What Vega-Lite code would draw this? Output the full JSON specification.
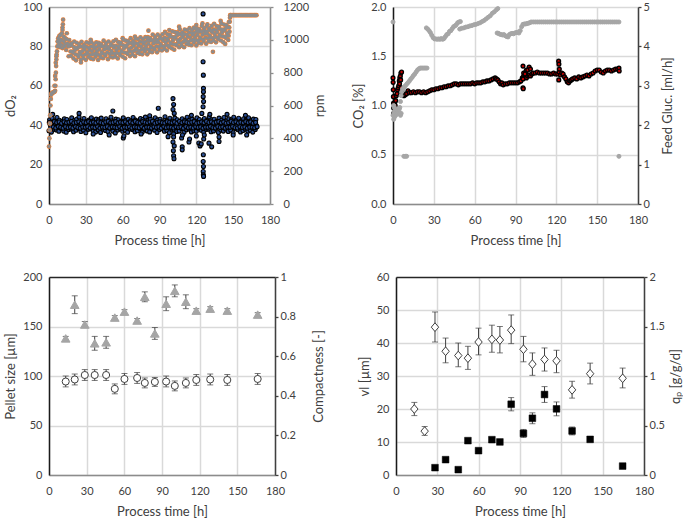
{
"$schema":"https://vega.github.io/schema/vega-lite/v6.json",
"padding":{"left":4,"top":1,"right":0,"bottom":0},
"background":"white",
"config":{
 "view":{"stroke":null},
 "font":"Lato",
 "axis":{"labelFont":"Lato","labelFontSize":11,"labelColor":"#404040","titleFont":"Lato","titleFontSize":13,"titleFontWeight":"normal","titleColor":"#404040","gridColor":"#d9d9d9","gridWidth":1.5,"domainWidth":1.5,"tickWidth":1.3,"titlePadding":5,"labelOverlap":false},
 "axisX":{"domainColor":"#8c8c8c","ticks":false,"labelPadding":10,"titlePadding":9,"labelFlush":false,"grid":true,"labelOverlap":false},
 "axisLeft":{"domainColor":"#1a1a1a","ticks":false,"labelPadding":7,"grid":true},
 "axisRight":{"domainColor":"#404040","tickColor":"#404040","ticks":true,"tickSize":3,"labelPadding":2,"grid":false,"titleAngle":270,"titleBaseline":"top"}
},
"datasets":{
"do2":[
{"t":0,"v":37.2},{"t":1,"v":40.2},{"t":0.5,"v":42.8},{"t":2,"v":36.5},{"t":3,"v":39.4},{"t":2.5,"v":43.5},{"t":4,"v":38.0},{"t":5,"v":40.8},{"t":4.5,"v":42.1},{"t":6,"v":37.6},{"t":7,"v":39.9},{"t":6.5,"v":43.9},{"t":8,"v":36.9},{"t":9,"v":40.5},{"t":8.5,"v":42.5},{"t":10,"v":38.3},{"t":11,"v":39.2},{"t":10.5,"v":41.8},{"t":12,"v":37.0},{"t":13,"v":41.0},{"t":12.5,"v":43.2},{"t":14,"v":36.4},{"t":15,"v":40.0},{"t":14.5,"v":42.9},{"t":16,"v":37.8},{"t":17,"v":39.6},{"t":16.5,"v":41.6},{"t":18,"v":38.1},{"t":19,"v":40.7},{"t":18.5,"v":43.7},{"t":20,"v":36.7},{"t":21,"v":39.3},{"t":20.5,"v":42.3},{"t":22,"v":37.4},{"t":23,"v":40.4},{"t":22.5,"v":43.0},{"t":24,"v":38.4},{"t":25,"v":39.8},{"t":24.5,"v":44.2},{"t":26,"v":36.8},{"t":27,"v":40.9},{"t":26.5,"v":42.0},{"t":28,"v":37.5},{"t":29,"v":39.5},{"t":28.5,"v":43.4},{"t":30,"v":36.2},{"t":31,"v":40.1},{"t":30.5,"v":41.9},{"t":32,"v":37.9},{"t":33,"v":40.6},{"t":32.5,"v":42.6},{"t":34,"v":38.2},{"t":35,"v":39.1},{"t":34.5,"v":43.8},{"t":36,"v":37.1},{"t":37,"v":40.3},{"t":36.5,"v":42.2},{"t":38,"v":36.6},{"t":39,"v":39.7},{"t":38.5,"v":43.1},{"t":40,"v":37.7},{"t":41,"v":40.5},{"t":40.5,"v":42.7},{"t":42,"v":36.3},{"t":43,"v":39.8},{"t":42.5,"v":43.6},{"t":44,"v":38.0},{"t":45,"v":40.1},{"t":44.5,"v":41.7},{"t":46,"v":37.3},{"t":47,"v":40.9},{"t":46.5,"v":43.3},{"t":48,"v":36.8},{"t":49,"v":39.4},{"t":48.5,"v":42.4},{"t":50,"v":38.5},{"t":51,"v":40.3},{"t":50.5,"v":44.0},{"t":52,"v":37.0},{"t":53,"v":39.6},{"t":52.5,"v":42.0},{"t":54,"v":36.1},{"t":55,"v":40.7},{"t":54.5,"v":43.1},{"t":56,"v":37.6},{"t":57,"v":39.2},{"t":56.5,"v":42.8},{"t":58,"v":38.2},{"t":59,"v":40.0},{"t":58.5,"v":41.9},{"t":60,"v":36.9},{"t":61,"v":40.8},{"t":60.5,"v":43.7},{"t":62,"v":37.4},{"t":63,"v":39.5},{"t":62.5,"v":42.5},{"t":64,"v":36.4},{"t":65,"v":40.4},{"t":64.5,"v":43.0},{"t":66,"v":38.1},{"t":67,"v":39.9},{"t":66.5,"v":42.2},{"t":68,"v":37.8},{"t":69,"v":41.0},{"t":68.5,"v":43.9},{"t":70,"v":36.7},{"t":71,"v":39.3},{"t":70.5,"v":42.6},{"t":72,"v":37.2},{"t":73,"v":40.2},{"t":72.5,"v":41.8},{"t":74,"v":38.3},{"t":75,"v":39.7},{"t":74.5,"v":43.4},{"t":76,"v":36.5},{"t":77,"v":40.6},{"t":76.5,"v":42.9},{"t":78,"v":37.9},{"t":79,"v":39.1},{"t":78.5,"v":44.1},{"t":80,"v":37.1},{"t":81,"v":40.4},{"t":80.5,"v":42.3},{"t":82,"v":36.6},{"t":83,"v":39.6},{"t":82.5,"v":43.2},{"t":84,"v":38.2},{"t":85,"v":40.9},{"t":84.5,"v":41.6},{"t":86,"v":37.5},{"t":87,"v":40.0},{"t":86.5,"v":43.8},{"t":88,"v":36.3},{"t":89,"v":39.3},{"t":88.5,"v":42.7},{"t":90,"v":37.8},{"t":91,"v":40.7},{"t":90.5,"v":43.0},{"t":92,"v":38.4},{"t":93,"v":39.8},{"t":92.5,"v":42.1},{"t":94,"v":36.9},{"t":95,"v":40.2},{"t":94.5,"v":44.3},{"t":96,"v":37.3},{"t":97,"v":39.5},{"t":96.5,"v":42.5},{"t":98,"v":36.2},{"t":99,"v":41.0},{"t":98.5,"v":43.5},{"t":100,"v":38.0},{"t":101,"v":40.1},{"t":100.5,"v":42.0},{"t":102,"v":37.6},{"t":103,"v":39.4},{"t":102.5,"v":43.6},{"t":104,"v":36.8},{"t":105,"v":40.6},{"t":104.5,"v":42.8},{"t":106,"v":37.0},{"t":107,"v":39.9},{"t":106.5,"v":41.9},{"t":108,"v":38.3},{"t":109,"v":40.3},{"t":108.5,"v":43.3},{"t":110,"v":36.4},{"t":111,"v":39.2},{"t":110.5,"v":42.4},{"t":112,"v":37.7},{"t":113,"v":40.8},{"t":112.5,"v":44.0},{"t":114,"v":38.1},{"t":115,"v":39.7},{"t":114.5,"v":42.6},{"t":116,"v":36.6},{"t":117,"v":40.5},{"t":116.5,"v":43.1},{"t":118,"v":37.2},{"t":119,"v":40.0},{"t":118.5,"v":42.2},{"t":120,"v":36.9},{"t":121,"v":39.6},{"t":120.5,"v":43.7},{"t":122,"v":38.2},{"t":123,"v":40.4},{"t":122.5,"v":42.9},{"t":124,"v":37.4},{"t":125,"v":39.1},{"t":124.5,"v":41.7},{"t":126,"v":36.5},{"t":127,"v":40.8},{"t":126.5,"v":43.4},{"t":128,"v":37.9},{"t":129,"v":39.9},{"t":128.5,"v":42.3},{"t":130,"v":38.0},{"t":131,"v":40.2},{"t":130.5,"v":44.2},{"t":132,"v":36.7},{"t":133,"v":39.4},{"t":132.5,"v":42.8},{"t":134,"v":37.1},{"t":135,"v":40.7},{"t":134.5,"v":43.0},{"t":136,"v":38.4},{"t":137,"v":40.0},{"t":136.5,"v":41.8},{"t":138,"v":36.3},{"t":139,"v":39.5},{"t":138.5,"v":43.6},{"t":140,"v":37.6},{"t":141,"v":40.9},{"t":140.5,"v":42.5},{"t":142,"v":37.0},{"t":143,"v":39.8},{"t":142.5,"v":43.9},{"t":144,"v":38.1},{"t":145,"v":40.3},{"t":144.5,"v":42.1},{"t":146,"v":36.8},{"t":147,"v":39.3},{"t":146.5,"v":43.2},{"t":148,"v":37.5},{"t":149,"v":40.6},{"t":148.5,"v":42.7},{"t":150,"v":36.2},{"t":151,"v":39.7},{"t":150.5,"v":44.0},{"t":152,"v":38.3},{"t":153,"v":40.1},{"t":152.5,"v":42.4},{"t":154,"v":37.7},{"t":155,"v":41.0},{"t":154.5,"v":43.5},{"t":156,"v":36.6},{"t":157,"v":39.2},{"t":156.5,"v":42.0},{"t":158,"v":37.3},{"t":159,"v":40.5},{"t":158.5,"v":43.3},{"t":160,"v":38.0},{"t":161,"v":39.9},{"t":160.5,"v":42.6},{"t":162,"v":36.9},{"t":163,"v":40.4},{"t":162.5,"v":43.8},{"t":164,"v":37.4},{"t":165,"v":39.6},{"t":164.5,"v":42.2},{"t":166,"v":36.5},{"t":167,"v":40.2},{"t":166.5,"v":43.1},{"t":168,"v":37.8},{"t":169,"v":39.8},{"t":168.5,"v":42.9},
{"t":1.5,"v":38.8},{"t":3.5,"v":39.1},{"t":5.5,"v":38.6},{"t":7.5,"v":39.3},{"t":9.5,"v":38.9},{"t":11.5,"v":38.5},{"t":13.5,"v":39.2},{"t":15.5,"v":38.7},{"t":17.5,"v":39.0},{"t":19.5,"v":38.6},{"t":21.5,"v":39.3},{"t":23.5,"v":38.8},{"t":25.5,"v":38.5},{"t":27.5,"v":39.1},{"t":29.5,"v":38.9},{"t":31.5,"v":39.2},{"t":33.5,"v":38.6},{"t":35.5,"v":39.0},{"t":37.5,"v":38.7},{"t":39.5,"v":39.3},{"t":41.5,"v":38.5},{"t":43.5,"v":39.0},{"t":45.5,"v":38.8},{"t":47.5,"v":39.2},{"t":49.5,"v":38.6},{"t":51.5,"v":39.1},{"t":53.5,"v":38.9},{"t":55.5,"v":38.7},{"t":57.5,"v":39.3},{"t":59.5,"v":38.5},{"t":61.5,"v":39.0},{"t":63.5,"v":38.8},{"t":65.5,"v":39.2},{"t":67.5,"v":38.6},{"t":69.5,"v":39.1},{"t":71.5,"v":38.9},{"t":73.5,"v":38.7},{"t":75.5,"v":39.3},{"t":77.5,"v":38.5},{"t":79.5,"v":39.0},{"t":81.5,"v":38.9},{"t":83.5,"v":38.6},{"t":85.5,"v":39.2},{"t":87.5,"v":38.8},{"t":89.5,"v":39.1},{"t":91.5,"v":38.5},{"t":93.5,"v":39.3},{"t":95.5,"v":38.7},{"t":97.5,"v":39.0},{"t":99.5,"v":38.9},{"t":101.5,"v":38.6},{"t":103.5,"v":39.2},{"t":105.5,"v":38.8},{"t":107.5,"v":39.1},{"t":109.5,"v":38.5},{"t":111.5,"v":39.3},{"t":113.5,"v":38.7},{"t":115.5,"v":39.0},{"t":117.5,"v":38.6},{"t":119.5,"v":39.2},{"t":121.5,"v":38.8},{"t":123.5,"v":39.1},{"t":125.5,"v":38.5},{"t":127.5,"v":39.0},{"t":129.5,"v":38.9},{"t":131.5,"v":39.3},{"t":133.5,"v":38.7},{"t":135.5,"v":38.6},{"t":137.5,"v":39.2},{"t":139.5,"v":38.8},{"t":141.5,"v":39.1},{"t":143.5,"v":38.5},{"t":145.5,"v":39.0},{"t":147.5,"v":38.9},{"t":149.5,"v":39.3},{"t":151.5,"v":38.7},{"t":153.5,"v":38.6},{"t":155.5,"v":39.2},{"t":157.5,"v":38.8},{"t":159.5,"v":39.1},{"t":161.5,"v":38.5},{"t":163.5,"v":39.0},{"t":165.5,"v":38.9},{"t":167.5,"v":38.7},{"t":169.5,"v":39.2},
{"t":0.25,"v":41.4},{"t":2.25,"v":41.1},{"t":4.25,"v":41.8},{"t":6.25,"v":41.3},{"t":8.25,"v":41.6},{"t":10.25,"v":41.0},{"t":12.25,"v":41.7},{"t":14.25,"v":41.2},{"t":16.25,"v":41.5},{"t":18.25,"v":41.9},{"t":20.25,"v":41.1},{"t":22.25,"v":41.4},{"t":24.25,"v":41.7},{"t":26.25,"v":41.0},{"t":28.25,"v":41.6},{"t":30.25,"v":41.3},{"t":32.25,"v":41.8},{"t":34.25,"v":41.2},{"t":36.25,"v":41.5},{"t":38.25,"v":41.1},{"t":40.25,"v":41.7},{"t":42.25,"v":41.3},{"t":44.25,"v":41.0},{"t":46.25,"v":41.6},{"t":48.25,"v":41.9},{"t":50.25,"v":41.2},{"t":52.25,"v":41.4},{"t":54.25,"v":41.8},{"t":56.25,"v":41.1},{"t":58.25,"v":41.5},{"t":60.25,"v":41.3},{"t":62.25,"v":41.7},{"t":64.25,"v":41.0},{"t":66.25,"v":41.6},{"t":68.25,"v":41.2},{"t":70.25,"v":41.9},{"t":72.25,"v":41.4},{"t":74.25,"v":41.1},{"t":76.25,"v":41.8},{"t":78.25,"v":41.5},{"t":80.25,"v":41.2},{"t":82.25,"v":41.6},{"t":84.25,"v":41.9},{"t":86.25,"v":41.0},{"t":88.25,"v":41.4},{"t":90.25,"v":41.7},{"t":92.25,"v":41.3},{"t":94.25,"v":41.1},{"t":96.25,"v":41.8},{"t":98.25,"v":41.5},{"t":100.25,"v":41.2},{"t":102.25,"v":41.6},{"t":104.25,"v":41.0},{"t":106.25,"v":41.9},{"t":108.25,"v":41.3},{"t":110.25,"v":41.7},{"t":112.25,"v":41.4},{"t":114.25,"v":41.1},{"t":116.25,"v":41.5},{"t":118.25,"v":41.8},{"t":120.25,"v":41.0},{"t":122.25,"v":41.3},{"t":124.25,"v":41.6},{"t":126.25,"v":41.2},{"t":128.25,"v":41.9},{"t":130.25,"v":41.4},{"t":132.25,"v":41.7},{"t":134.25,"v":41.1},{"t":136.25,"v":41.5},{"t":138.25,"v":41.8},{"t":140.25,"v":41.2},{"t":142.25,"v":41.6},{"t":144.25,"v":41.0},{"t":146.25,"v":41.3},{"t":148.25,"v":41.9},{"t":150.25,"v":41.4},{"t":152.25,"v":41.7},{"t":154.25,"v":41.1},{"t":156.25,"v":41.5},{"t":158.25,"v":41.2},{"t":160.25,"v":41.8},{"t":162.25,"v":41.3},{"t":164.25,"v":41.6},{"t":166.25,"v":41.0},{"t":168.25,"v":41.4},
{"t":3,"v":45.5},{"t":24.5,"v":46},{"t":52,"v":47.2},{"t":60.5,"v":33.5},{"t":61,"v":34.5},{"t":89,"v":48.6},{"t":97,"v":34.2},{"t":101,"v":53.5},{"t":101.5,"v":50.5},{"t":101,"v":48},{"t":102,"v":46},{"t":101.5,"v":35.5},{"t":101.5,"v":34},{"t":101,"v":31.5},{"t":102,"v":29.5},{"t":101.3,"v":27},{"t":101.5,"v":24.5},{"t":101.8,"v":23},{"t":108.5,"v":29},{"t":108.5,"v":27.5},{"t":108,"v":33.5},{"t":108.7,"v":35},{"t":114,"v":31.5},{"t":114.5,"v":33},{"t":116,"v":45},{"t":122,"v":31},{"t":123,"v":29.5},{"t":124,"v":30.5},{"t":124.5,"v":46},{"t":125.5,"v":96.5},{"t":125.5,"v":72.2},{"t":125.7,"v":65.4},{"t":125.8,"v":58.7},{"t":125.8,"v":57},{"t":125.6,"v":54.5},{"t":125.9,"v":52},{"t":125.5,"v":49.4},{"t":125.7,"v":25},{"t":125.6,"v":21.6},{"t":125.8,"v":19},{"t":125.6,"v":16.5},{"t":125.7,"v":14.8},{"t":125.9,"v":14},{"t":126,"v":33},{"t":126.5,"v":35},{"t":130.3,"v":30.9},{"t":132.5,"v":29},{"t":131,"v":45.5},{"t":138.5,"v":31.7},{"t":138.5,"v":34},{"t":145,"v":45.5},{"t":160,"v":45},{"t":161,"v":35},{"t":49,"v":35},{"t":36,"v":35.5},{"t":75,"v":35.5},{"t":82,"v":44.8},{"t":120,"v":34.5},{"t":150,"v":35}
],
"rpm":[
{"t":0,"v":350},{"t":0.3,"v":400},{"t":0.5,"v":450},{"t":0.7,"v":490},{"t":1,"v":540},{"t":1.2,"v":600},{"t":1.5,"v":640},{"t":1.8,"v":665},{"t":2,"v":672},{"t":2.5,"v":676},{"t":3,"v":678},{"t":3.5,"v":680},{"t":4,"v":682},{"t":4.5,"v":684},{"t":5,"v":690},{"t":5.2,"v":720},{"t":5.4,"v":760},{"t":5.6,"v":800},{"t":5.8,"v":840},{"t":6,"v":880},{"t":6.2,"v":910},{"t":6.5,"v":930},{"t":6.8,"v":960},{"t":7,"v":990},{"t":7.5,"v":1010},{"t":8,"v":1000},{"t":8.5,"v":1025},{"t":9,"v":990},{"t":9.5,"v":1030},{"t":10,"v":1000},{"t":10.5,"v":1040},{"t":11,"v":1060},{"t":11.3,"v":1095},{"t":11.5,"v":1123},{"t":11,"v":1075},{"t":12,"v":990},{"t":12.5,"v":960},{"t":13,"v":1010},{"t":4.5,"v":720},{"t":5,"v":780},{"t":5.5,"v":860},{"t":6,"v":900},{"t":7.5,"v":960},{"t":9,"v":955},{"t":11,"v":950},{"t":8,"v":975},{"t":10,"v":970},{"t":12,"v":1020},{"t":13,"v":975},
{"t":14,"v":938},{"t":15,"v":977},{"t":14.5,"v":1040},{"t":16,"v":900},{"t":17,"v":962},{"t":16.5,"v":999},{"t":18,"v":902},{"t":19,"v":929},{"t":18.5,"v":979},{"t":20,"v":887},{"t":21,"v":937},{"t":20.5,"v":990},{"t":22,"v":875},{"t":23,"v":947},{"t":22.5,"v":982},{"t":24,"v":896},{"t":25,"v":926},{"t":24.5,"v":974},{"t":26,"v":879},{"t":27,"v":930},{"t":26.5,"v":988},{"t":28,"v":888},{"t":29,"v":941},{"t":28.5,"v":969},{"t":30,"v":878},{"t":31,"v":926},{"t":30.5,"v":985},{"t":32,"v":895},{"t":33,"v":939},{"t":32.5,"v":980},{"t":34,"v":886},{"t":35,"v":931},{"t":34.5,"v":986},{"t":36,"v":882},{"t":37,"v":946},{"t":36.5,"v":975},{"t":38,"v":897},{"t":39,"v":931},{"t":38.5,"v":984},{"t":40,"v":877},{"t":41,"v":941},{"t":40.5,"v":981},{"t":42,"v":892},{"t":43,"v":925},{"t":42.5,"v":975},{"t":44,"v":888},{"t":45,"v":941},{"t":44.5,"v":995},{"t":46,"v":903},{"t":47,"v":948},{"t":46.5,"v":981},{"t":48,"v":882},{"t":49,"v":943},{"t":48.5,"v":990},{"t":50,"v":897},{"t":51,"v":932},{"t":50.5,"v":976},{"t":52,"v":893},{"t":53,"v":952},{"t":52.5,"v":991},{"t":54,"v":898},{"t":55,"v":937},{"t":54.5,"v":1000},{"t":56,"v":887},{"t":57,"v":949},{"t":56.5,"v":986},{"t":58,"v":906},{"t":59,"v":933},{"t":58.5,"v":983},{"t":60,"v":898},{"t":61,"v":948},{"t":60.5,"v":1001},{"t":62,"v":888},{"t":63,"v":960},{"t":62.5,"v":995},{"t":64,"v":914},{"t":65,"v":944},{"t":64.5,"v":992},{"t":66,"v":901},{"t":67,"v":952},{"t":66.5,"v":1010},{"t":68,"v":911},{"t":69,"v":964},{"t":68.5,"v":992},{"t":70,"v":900},{"t":71,"v":948},{"t":70.5,"v":1007},{"t":72,"v":920},{"t":73,"v":964},{"t":72.5,"v":1005},{"t":74,"v":915},{"t":75,"v":960},{"t":74.5,"v":1015},{"t":76,"v":912},{"t":77,"v":976},{"t":76.5,"v":1005},{"t":78,"v":929},{"t":79,"v":963},{"t":78.5,"v":1016},{"t":80,"v":912},{"t":81,"v":976},{"t":80.5,"v":1016},{"t":82,"v":927},{"t":83,"v":960},{"t":82.5,"v":1010},{"t":84,"v":925},{"t":85,"v":978},{"t":84.5,"v":1032},{"t":86,"v":941},{"t":87,"v":986},{"t":86.5,"v":1019},{"t":88,"v":924},{"t":89,"v":985},{"t":88.5,"v":1032},{"t":90,"v":940},{"t":91,"v":975},{"t":90.5,"v":1019},{"t":92,"v":936},{"t":93,"v":995},{"t":92.5,"v":1034},{"t":94,"v":946},{"t":95,"v":985},{"t":94.5,"v":1048},{"t":96,"v":935},{"t":97,"v":997},{"t":96.5,"v":1034},{"t":98,"v":955},{"t":99,"v":982},{"t":98.5,"v":1032},{"t":100,"v":948},{"t":101,"v":998},{"t":100.5,"v":1051},{"t":102,"v":940},{"t":103,"v":1012},{"t":102.5,"v":1047},{"t":104,"v":967},{"t":105,"v":997},{"t":104.5,"v":1045},{"t":106,"v":955},{"t":107,"v":1006},{"t":106.5,"v":1064},{"t":108,"v":965},{"t":109,"v":1018},{"t":108.5,"v":1046},{"t":110,"v":955},{"t":111,"v":1003},{"t":110.5,"v":1062},{"t":112,"v":975},{"t":113,"v":1019},{"t":112.5,"v":1060},{"t":114,"v":971},{"t":115,"v":1016},{"t":114.5,"v":1071},{"t":116,"v":967},{"t":117,"v":1031},{"t":116.5,"v":1060},{"t":118,"v":983},{"t":119,"v":1017},{"t":118.5,"v":1070},{"t":120,"v":966},{"t":121,"v":1030},{"t":120.5,"v":1070},{"t":122,"v":981},{"t":123,"v":1014},{"t":122.5,"v":1064},{"t":124,"v":978},{"t":125,"v":1031},{"t":124.5,"v":1085},{"t":126,"v":993},{"t":127,"v":1038},{"t":126.5,"v":1071},{"t":128,"v":976},{"t":129,"v":1037},{"t":128.5,"v":1084},{"t":130,"v":991},{"t":131,"v":1026},{"t":130.5,"v":1070},{"t":132,"v":987},{"t":133,"v":1046},{"t":132.5,"v":1085},{"t":134,"v":996},{"t":135,"v":1035},{"t":134.5,"v":1098},{"t":136,"v":985},{"t":137,"v":1047},{"t":136.5,"v":1084},{"t":138,"v":1004},{"t":139,"v":1031},{"t":138.5,"v":1081},{"t":140,"v":996},{"t":141,"v":1046},{"t":140.5,"v":1099},{"t":142,"v":986},{"t":143,"v":1058},{"t":142.5,"v":1093},{"t":144,"v":1012},{"t":145,"v":1042},{"t":144.5,"v":1090},{"t":146,"v":999},{"t":147,"v":1050},{"t":146.5,"v":1108},
{"t":15.5,"v":960},{"t":17.5,"v":929},{"t":19.5,"v":923},{"t":21.5,"v":912},{"t":23.5,"v":907},{"t":25.5,"v":913},{"t":27.5,"v":905},{"t":29.5,"v":911},{"t":31.5,"v":919},{"t":33.5,"v":908},{"t":35.5,"v":911},{"t":37.5,"v":917},{"t":39.5,"v":912},{"t":41.5,"v":906},{"t":43.5,"v":917},{"t":45.5,"v":912},{"t":47.5,"v":923},{"t":49.5,"v":915},{"t":51.5,"v":919},{"t":53.5,"v":917},{"t":55.5,"v":920},{"t":57.5,"v":916},{"t":59.5,"v":927},{"t":61.5,"v":923},{"t":63.5,"v":920},{"t":65.5,"v":931},{"t":67.5,"v":927},{"t":69.5,"v":934},{"t":71.5,"v":941},{"t":73.5,"v":933},{"t":75.5,"v":940},{"t":77.5,"v":947},{"t":79.5,"v":944},{"t":81.5,"v":941},{"t":83.5,"v":952},{"t":85.5,"v":949},{"t":87.5,"v":961},{"t":89.5,"v":957},{"t":91.5,"v":962},{"t":93.5,"v":960},{"t":95.5,"v":968},{"t":97.5,"v":964},{"t":99.5,"v":976},{"t":101.5,"v":973},{"t":103.5,"v":972},{"t":105.5,"v":984},{"t":107.5,"v":981},{"t":109.5,"v":988},{"t":111.5,"v":996},{"t":113.5,"v":988},{"t":115.5,"v":996},{"t":117.5,"v":1002},{"t":119.5,"v":998},{"t":121.5,"v":995},{"t":123.5,"v":1006},{"t":125.5,"v":1002},{"t":127.5,"v":1013},{"t":129.5,"v":1009},{"t":131.5,"v":1013},{"t":133.5,"v":1011},{"t":135.5,"v":1018},{"t":137.5,"v":1014},{"t":139.5,"v":1025},{"t":141.5,"v":1021},{"t":143.5,"v":1018},{"t":145.5,"v":1029},{"t":146.3,"v":1025},
{"t":14.25,"v":1004},{"t":16.25,"v":973},{"t":18.25,"v":967},{"t":20.25,"v":956},{"t":22.25,"v":951},{"t":24.25,"v":957},{"t":26.25,"v":959},{"t":28.25,"v":952},{"t":30.25,"v":958},{"t":32.25,"v":952},{"t":34.25,"v":959},{"t":36.25,"v":957},{"t":38.25,"v":955},{"t":40.25,"v":963},{"t":42.25,"v":961},{"t":44.25,"v":959},{"t":46.25,"v":967},{"t":48.25,"v":956},{"t":50.25,"v":965},{"t":52.25,"v":962},{"t":54.25,"v":964},{"t":56.25,"v":960},{"t":58.25,"v":971},{"t":60.25,"v":967},{"t":62.25,"v":964},{"t":64.25,"v":975},{"t":66.25,"v":981},{"t":68.25,"v":975},{"t":70.25,"v":980},{"t":72.25,"v":977},{"t":74.25,"v":988},{"t":76.25,"v":987},{"t":78.25,"v":987},{"t":80.25,"v":998},{"t":82.25,"v":996},{"t":84.25,"v":996},{"t":86.25,"v":1005},{"t":88.25,"v":998},{"t":90.25,"v":1008},{"t":92.25,"v":1005},{"t":94.25,"v":1012},{"t":96.25,"v":1008},{"t":98.25,"v":1020},{"t":100.25,"v":1017},{"t":102.25,"v":1016},{"t":104.25,"v":1028},{"t":106.25,"v":1035},{"t":108.25,"v":1029},{"t":110.25,"v":1035},{"t":112.25,"v":1032},{"t":114.25,"v":1044},{"t":116.25,"v":1042},{"t":118.25,"v":1041},{"t":120.25,"v":1052},{"t":122.25,"v":1050},{"t":124.25,"v":1049},{"t":126.25,"v":1057},{"t":128.25,"v":1050},{"t":130.25,"v":1059},{"t":132.25,"v":1056},{"t":134.25,"v":1062},{"t":136.25,"v":1058},{"t":138.25,"v":1069},{"t":140.25,"v":1062},{"t":142.25,"v":1062},{"t":144.25,"v":1073},{"t":146.25,"v":1077},
{"t":146.8,"v":1075},{"t":147.2,"v":1110},{"t":147.4,"v":1135},{"t":147.6,"v":1150},{"t":148,"v":1150},{"t":149,"v":1150},{"t":150,"v":1150},{"t":151,"v":1150},{"t":152,"v":1150},{"t":153,"v":1150},{"t":154,"v":1150},{"t":155,"v":1150},{"t":156,"v":1150},{"t":157,"v":1150},{"t":158,"v":1150},{"t":159,"v":1150},{"t":160,"v":1150},{"t":161,"v":1150},{"t":162,"v":1150},{"t":163,"v":1150},{"t":164,"v":1150},{"t":165,"v":1150},{"t":166,"v":1150},{"t":167,"v":1150},{"t":168,"v":1150},{"t":169,"v":1150},
{"t":26,"v":862},{"t":81,"v":1056},{"t":120,"v":1090},{"t":133.5,"v":927},{"t":139.8,"v":1115},{"t":143.5,"v":975},{"t":125,"v":1100},{"t":118,"v":1075},{"t":129,"v":1095},{"t":60,"v":1010},{"t":34,"v":1000},{"t":70,"v":1020},{"t":98,"v":1060},{"t":106,"v":1080}
],
"co2":[
{"t":0,"v":1.28},{"t":0.1,"v":1.235},{"t":0.2,"v":1.16},{"t":0.3,"v":1.09},{"t":0.4,"v":1.025},{"t":0.5,"v":0.975},{"t":0.6,"v":0.92},{"t":1,"v":0.97},{"t":1.3,"v":1.03},{"t":1.6,"v":1.0},{"t":2,"v":1.05},{"t":2.4,"v":1.1},{"t":3,"v":1.12},{"t":3.3,"v":1.16},{"t":3.8,"v":1.18},{"t":4.2,"v":1.2},{"t":4.6,"v":1.25},{"t":5,"v":1.28},{"t":5.4,"v":1.3},{"t":5.8,"v":1.33},{"t":6.3,"v":1.34},{"t":4.8,"v":1.22},{"t":5.6,"v":1.26},{"t":6,"v":1.18},{"t":6.5,"v":1.15},{"t":7,"v":1.12},
{"t":8,"v":1.10},{"t":9,"v":1.11},{"t":10,"v":1.12},{"t":11,"v":1.15},{"t":12,"v":1.13},{"t":13.5,"v":1.13},{"t":15,"v":1.14},{"t":16.5,"v":1.13},{"t":18,"v":1.14},{"t":19.5,"v":1.14},{"t":21,"v":1.13},{"t":22.5,"v":1.14},{"t":24,"v":1.13},{"t":25.5,"v":1.14},{"t":27,"v":1.15},{"t":28.5,"v":1.16},{"t":30,"v":1.16},{"t":31.5,"v":1.17},{"t":33,"v":1.17},{"t":34.5,"v":1.18},{"t":36,"v":1.18},{"t":37.5,"v":1.19},{"t":39,"v":1.19},{"t":40.5,"v":1.2},{"t":42,"v":1.2},{"t":43.5,"v":1.21},{"t":45,"v":1.22},{"t":46.5,"v":1.22},{"t":48,"v":1.21},{"t":49.5,"v":1.22},{"t":51,"v":1.22},{"t":52.5,"v":1.22},{"t":54,"v":1.22},{"t":55.5,"v":1.22},{"t":57,"v":1.22},{"t":58.5,"v":1.23},{"t":60,"v":1.22},{"t":61.5,"v":1.23},{"t":63,"v":1.23},{"t":64.5,"v":1.23},{"t":66,"v":1.24},{"t":67.5,"v":1.24},{"t":69,"v":1.25},{"t":70.5,"v":1.25},{"t":72,"v":1.26},{"t":73.5,"v":1.27},{"t":75,"v":1.28},{"t":76,"v":1.27},{"t":77,"v":1.26},{"t":78,"v":1.24},{"t":79,"v":1.22},{"t":80,"v":1.23},{"t":81,"v":1.21},{"t":82.5,"v":1.22},{"t":84,"v":1.22},{"t":85.5,"v":1.23},{"t":87,"v":1.23},{"t":88.5,"v":1.23},{"t":90,"v":1.23},{"t":91.5,"v":1.23},{"t":93,"v":1.24},{"t":94,"v":1.25},{"t":95,"v":1.28},{"t":96,"v":1.3},{"t":97,"v":1.29},{"t":98,"v":1.28},{"t":99,"v":1.3},{"t":100,"v":1.31},{"t":101,"v":1.3},{"t":102,"v":1.32},{"t":103,"v":1.33},{"t":104.5,"v":1.33},{"t":106,"v":1.34},{"t":107.5,"v":1.33},{"t":109,"v":1.33},{"t":110.5,"v":1.33},{"t":112,"v":1.33},{"t":113.5,"v":1.33},{"t":115,"v":1.32},{"t":116.5,"v":1.32},{"t":118,"v":1.33},{"t":119.5,"v":1.32},{"t":121,"v":1.32},{"t":122,"v":1.34},{"t":123,"v":1.31},{"t":124,"v":1.33},{"t":125,"v":1.32},{"t":126,"v":1.29},{"t":127,"v":1.27},{"t":128,"v":1.24},{"t":129,"v":1.23},{"t":130,"v":1.25},{"t":131,"v":1.26},{"t":132,"v":1.27},{"t":133.5,"v":1.28},{"t":135,"v":1.27},{"t":136.5,"v":1.29},{"t":138,"v":1.28},{"t":139.5,"v":1.29},{"t":141,"v":1.3},{"t":142.5,"v":1.31},{"t":144,"v":1.3},{"t":145.5,"v":1.32},{"t":147,"v":1.33},{"t":148.5,"v":1.35},{"t":150,"v":1.36},{"t":151.5,"v":1.36},{"t":153,"v":1.34},{"t":154.5,"v":1.33},{"t":156,"v":1.35},{"t":157.5,"v":1.36},{"t":159,"v":1.36},{"t":160.5,"v":1.35},{"t":162,"v":1.36},{"t":163.5,"v":1.37},{"t":165,"v":1.37},{"t":166,"v":1.38},{"t":166.2,"v":1.35},
{"t":95.5,"v":1.40},{"t":96,"v":1.33},{"t":95.5,"v":1.27},{"t":95.5,"v":1.18},{"t":95.7,"v":1.17},{"t":97.5,"v":1.34},{"t":98,"v":1.36},{"t":100,"v":1.39},{"t":99,"v":1.36},{"t":101,"v":1.37},{"t":97,"v":1.32},{"t":121.7,"v":1.45},{"t":121.9,"v":1.42},{"t":122.2,"v":1.37},{"t":121.8,"v":1.26}
],
"feed":[
{"t":0,"v":4.62},{"t":0,"v":2.25},{"t":0.5,"v":2.15},{"t":0.8,"v":2.35},{"t":1,"v":2.2},{"t":1.5,"v":2.3},{"t":2,"v":2.25},{"t":2.5,"v":2.4},{"t":3,"v":2.3},{"t":3.5,"v":2.35},{"t":4,"v":2.3},{"t":4.5,"v":2.4},{"t":5,"v":2.3},{"t":5.5,"v":2.25},{"t":6,"v":2.3},{"t":1,"v":2.45},{"t":0.5,"v":2.5},
{"t":5,"v":2.45},{"t":5.5,"v":2.6},{"t":6,"v":2.75},{"t":6.5,"v":2.85},{"t":7,"v":2.92},{"t":8,"v":2.96},{"t":9,"v":3.0},{"t":10,"v":3.04},{"t":11,"v":3.08},{"t":12,"v":3.12},{"t":13,"v":3.17},{"t":14,"v":3.21},{"t":15,"v":3.26},{"t":16,"v":3.3},{"t":17,"v":3.35},{"t":18,"v":3.4},{"t":19,"v":3.43},{"t":20,"v":3.45},{"t":21,"v":3.45},{"t":22,"v":3.45},{"t":23,"v":3.45},{"t":24,"v":3.45},{"t":25,"v":3.45},
{"t":24.5,"v":4.47},{"t":25.5,"v":4.44},{"t":26.5,"v":4.4},{"t":27.5,"v":4.35},{"t":28.5,"v":4.28},{"t":29.5,"v":4.22},{"t":30.5,"v":4.19},{"t":31.5,"v":4.19},{"t":32.5,"v":4.18},{"t":33.5,"v":4.19},{"t":34.5,"v":4.18},{"t":35.5,"v":4.2},{"t":36.5,"v":4.18},{"t":37.5,"v":4.2},{"t":38.5,"v":4.25},{"t":39.5,"v":4.3},{"t":40.5,"v":4.32},{"t":41.5,"v":4.38},{"t":42.5,"v":4.4},{"t":43.5,"v":4.45},{"t":44.5,"v":4.5},{"t":45.5,"v":4.52},{"t":46.5,"v":4.55},{"t":47.5,"v":4.6},{"t":48.5,"v":4.62},{"t":49.5,"v":4.63},
{"t":49,"v":4.44},{"t":50.5,"v":4.46},{"t":52,"v":4.47},{"t":53.5,"v":4.49},{"t":55,"v":4.5},{"t":56.5,"v":4.52},{"t":58,"v":4.53},{"t":59.5,"v":4.55},{"t":61,"v":4.56},{"t":62.5,"v":4.58},{"t":64,"v":4.6},{"t":65.5,"v":4.63},{"t":67,"v":4.66},{"t":68.5,"v":4.7},{"t":70,"v":4.74},{"t":71.5,"v":4.78},{"t":73,"v":4.84},{"t":74.5,"v":4.88},{"t":76,"v":4.93},{"t":77,"v":4.96},
{"t":76.5,"v":4.34},{"t":77.5,"v":4.33},{"t":78.5,"v":4.31},{"t":79.5,"v":4.3},{"t":80.5,"v":4.29},{"t":81.5,"v":4.3},{"t":82.5,"v":4.27},{"t":83.5,"v":4.25},{"t":84.5,"v":4.24},{"t":85.5,"v":4.3},{"t":86.5,"v":4.32},{"t":87.5,"v":4.33},{"t":88.5,"v":4.32},{"t":89.5,"v":4.34},{"t":90.5,"v":4.35},{"t":91.5,"v":4.36},{"t":92.5,"v":4.34},{"t":93.5,"v":4.4},{"t":94.5,"v":4.5},{"t":95.5,"v":4.56},{"t":96.5,"v":4.57},{"t":97.5,"v":4.57},{"t":98.5,"v":4.58},{"t":99.5,"v":4.59},{"t":100.5,"v":4.6},{"t":101.5,"v":4.62},
{"t":103,"v":4.62},{"t":104.5,"v":4.62},{"t":106,"v":4.62},{"t":107.5,"v":4.62},{"t":109,"v":4.62},{"t":110.5,"v":4.62},{"t":112,"v":4.62},{"t":113.5,"v":4.62},{"t":115,"v":4.62},{"t":116.5,"v":4.62},{"t":118,"v":4.62},{"t":119.5,"v":4.62},{"t":121,"v":4.62},{"t":122.5,"v":4.62},{"t":124,"v":4.62},{"t":125.5,"v":4.62},{"t":127,"v":4.62},{"t":128.5,"v":4.62},{"t":130,"v":4.62},{"t":131.5,"v":4.62},{"t":133,"v":4.62},{"t":134.5,"v":4.62},{"t":136,"v":4.62},{"t":137.5,"v":4.62},{"t":139,"v":4.62},{"t":140.5,"v":4.62},{"t":142,"v":4.62},{"t":143.5,"v":4.62},{"t":145,"v":4.62},{"t":146.5,"v":4.62},{"t":148,"v":4.62},{"t":149.5,"v":4.62},{"t":151,"v":4.62},{"t":152.5,"v":4.62},{"t":154,"v":4.62},{"t":155.5,"v":4.62},{"t":157,"v":4.62},{"t":158.5,"v":4.62},{"t":160,"v":4.62},{"t":161.5,"v":4.62},{"t":163,"v":4.62},{"t":164.5,"v":4.62},{"t":166,"v":4.62},
{"t":8,"v":1.21},{"t":9,"v":1.21},{"t":10,"v":1.21},{"t":166,"v":1.21}
],
"pellet":[
{"t":13.3,"p":94.4,"lo":89,"hi":100},{"t":20.5,"p":96.5,"lo":91,"hi":102},{"t":28.5,"p":101,"lo":95.5,"hi":106.5},{"t":36.4,"p":101,"lo":95.5,"hi":106.5},{"t":45.5,"p":101,"lo":95.5,"hi":106.5},{"t":52.4,"p":87,"lo":82,"hi":92},{"t":60.1,"p":97,"lo":91.5,"hi":102.5},{"t":70.2,"p":98,"lo":92.5,"hi":103.5},{"t":76.3,"p":93,"lo":88,"hi":98},{"t":84.3,"p":94,"lo":89.5,"hi":98.5},{"t":93.3,"p":94.4,"lo":89,"hi":100},{"t":100.2,"p":90,"lo":85,"hi":95},{"t":109,"p":93,"lo":88,"hi":98},{"t":117.3,"p":96,"lo":90.5,"hi":101.5},{"t":128.4,"p":96.5,"lo":91,"hi":102},{"t":142,"p":96,"lo":90.5,"hi":101.5},{"t":166.2,"p":97,"lo":91.5,"hi":102.5}
],
"compact":[
{"t":13.3,"c":0.69,"lo":0.68,"hi":0.70},{"t":20.5,"c":0.86,"lo":0.815,"hi":0.905},{"t":28.5,"c":0.76,"lo":0.745,"hi":0.775},{"t":36.4,"c":0.665,"lo":0.63,"hi":0.70},{"t":45.5,"c":0.67,"lo":0.64,"hi":0.70},{"t":52.4,"c":0.795,"lo":0.785,"hi":0.805},{"t":60.1,"c":0.825,"lo":0.815,"hi":0.835},{"t":70.2,"c":0.78,"lo":0.77,"hi":0.79},{"t":76.3,"c":0.90,"lo":0.875,"hi":0.925},{"t":84.3,"c":0.715,"lo":0.685,"hi":0.745},{"t":93.3,"c":0.865,"lo":0.83,"hi":0.90},{"t":100.2,"c":0.93,"lo":0.90,"hi":0.96},{"t":109,"c":0.875,"lo":0.84,"hi":0.91},{"t":117.3,"c":0.83,"lo":0.82,"hi":0.84},{"t":128.4,"c":0.84,"lo":0.83,"hi":0.85},{"t":142,"c":0.83,"lo":0.82,"hi":0.84},{"t":166.2,"c":0.81,"lo":0.80,"hi":0.82}
],
"vl":[
{"t":13.3,"v":20.0,"lo":18,"hi":22},{"t":20.8,"v":13.3,"lo":12,"hi":14.7},{"t":28.3,"v":44.8,"lo":40.3,"hi":49.4},{"t":36,"v":37.5,"lo":34,"hi":41.5},{"t":45.2,"v":36.2,"lo":32.8,"hi":40},{"t":52.2,"v":35.4,"lo":32,"hi":39},{"t":59.9,"v":40.3,"lo":36.4,"hi":44.5},{"t":69.6,"v":41.1,"lo":37.2,"hi":45.4},{"t":75.4,"v":40.9,"lo":37,"hi":45},{"t":83.6,"v":43.9,"lo":39.8,"hi":48.5},{"t":92.5,"v":38.1,"lo":34.3,"hi":42},{"t":99,"v":33.6,"lo":30.2,"hi":37},{"t":107.8,"v":35,"lo":31.5,"hi":38.5},{"t":116.5,"v":34.6,"lo":31,"hi":37.8},{"t":127.8,"v":25.8,"lo":23.3,"hi":28.4},{"t":140.9,"v":30.7,"lo":27.6,"hi":33.9},{"t":164.5,"v":29.3,"lo":26.4,"hi":32.4}
],
"qp":[
{"t":28.3,"q":0.074,"lo":0.066,"hi":0.082},{"t":36,"q":0.155,"lo":0.145,"hi":0.165},{"t":45.2,"q":0.054,"lo":0.049,"hi":0.059},{"t":52.2,"q":0.347,"lo":0.332,"hi":0.362},{"t":59.9,"q":0.246,"lo":0.236,"hi":0.256},{"t":69.6,"q":0.357,"lo":0.337,"hi":0.377},{"t":75.4,"q":0.334,"lo":0.319,"hi":0.349},{"t":83.6,"q":0.715,"lo":0.648,"hi":0.782},{"t":92.5,"q":0.42,"lo":0.38,"hi":0.46},{"t":99,"q":0.573,"lo":0.518,"hi":0.628},{"t":107.8,"q":0.813,"lo":0.733,"hi":0.893},{"t":116.5,"q":0.668,"lo":0.598,"hi":0.738},{"t":127.8,"q":0.445,"lo":0.405,"hi":0.485},{"t":140.9,"q":0.36,"lo":0.335,"hi":0.385},{"t":164.5,"q":0.09,"lo":0.08,"hi":0.10}
]
},
"spacing":24,
"vconcat":[
{"spacing":25,"hconcat":[
 {"width":221,"height":197,
  "layer":[
   {"data":{"name":"do2"},"mark":{"type":"point","shape":"circle","filled":true,"size":16,"color":"#2b4f94","stroke":"#000000","strokeWidth":1.1,"opacity":1},
    "encoding":{"x":{"field":"t","type":"quantitative","scale":{"domain":[0,180],"nice":false},"axis":{"values":[0,30,60,90,120,150,180],"title":"Process time [h]"}},
     "y":{"field":"v","type":"quantitative","scale":{"domain":[0,100],"nice":false},"axis":{"values":[0,20,40,60,80,100],"title":"dO₂","gridColor":{"condition":{"test":"datum.value === 100","value":"#a6a6a6"},"value":"#d9d9d9"}}}}},
   {"data":{"name":"rpm"},"layer":[
     {"mark":{"type":"point","shape":"circle","filled":true,"size":22,"color":"#ed7d31","strokeWidth":0,"opacity":1},
      "encoding":{"x":{"field":"t","type":"quantitative","scale":{"domain":[0,180],"nice":false},"axis":{"values":[0,30,60,90,120,150,180],"title":"Process time [h]"}},
       "y":{"field":"v","type":"quantitative","scale":{"domain":[0,1200],"nice":false},"axis":{"orient":"right","values":[0,200,400,600,800,1000,1200],"format":"d","title":"rpm","labelPadding":10,"domainColor":"#8c8c8c","tickColor":"#8c8c8c"}}}},
     {"mark":{"type":"point","shape":"circle","filled":true,"size":13,"color":"#8c8c8c","strokeWidth":0,"opacity":1},
      "encoding":{"x":{"field":"t","type":"quantitative","scale":{"domain":[0,180],"nice":false},"axis":{"values":[0,30,60,90,120,150,180],"title":"Process time [h]"}},
       "y":{"field":"v","type":"quantitative","scale":{"domain":[0,1200],"nice":false},"axis":{"orient":"right","values":[0,200,400,600,800,1000,1200],"format":"d","title":"rpm","labelPadding":10,"domainColor":"#8c8c8c","tickColor":"#8c8c8c"}}}}
   ]}
  ],
  "resolve":{"scale":{"y":"independent"}}},
 {"width":245,"height":197,
  "layer":[
   {"data":{"name":"co2"},"mark":{"type":"point","shape":"circle","filled":true,"size":14,"color":"#c00000","stroke":"#000000","strokeWidth":1.4,"opacity":1},
    "encoding":{"x":{"field":"t","type":"quantitative","scale":{"domain":[0,180],"nice":false},"axis":{"values":[0,30,60,90,120,150,180],"title":"Process time [h]"}},
     "y":{"field":"v","type":"quantitative","scale":{"domain":[0,2],"nice":false},"axis":{"values":[0,0.5,1,1.5,2],"format":".1f","title":"CO₂ [%]"}}}},
   {"data":{"name":"feed"},"mark":{"type":"point","shape":"circle","filled":true,"size":16,"color":"#a6a6a6","stroke":"#a6a6a6","strokeWidth":1,"opacity":1},
    "encoding":{"x":{"field":"t","type":"quantitative","scale":{"domain":[0,180],"nice":false},"axis":{"values":[0,30,60,90,120,150,180],"title":"Process time [h]"}},
     "y":{"field":"v","type":"quantitative","scale":{"domain":[0,5],"nice":false},"axis":{"orient":"right","values":[0,1,2,3,4,5],"title":"Feed Gluc. [ml/h]","titlePadding":12}}}}
  ],
  "resolve":{"scale":{"y":"independent"}}}
]},
{"spacing":32,"hconcat":[
 {"width":226,"height":198,
  "layer":[
   {"data":{"name":"pellet"},"layer":[
     {"mark":{"type":"rule","color":"#404040","strokeWidth":1},
      "encoding":{"x":{"field":"t","type":"quantitative","scale":{"domain":[0,180],"nice":false},"axis":{"values":[0,30,60,90,120,150,180],"title":"Process time [h]"}},
       "y":{"field":"lo","type":"quantitative","scale":{"domain":[0,200],"nice":false},"axis":{"values":[0,50,100,150,200],"title":"Pellet size [µm]","gridColor":{"condition":{"test":"datum.value === 200","value":"#262626"},"value":"#d9d9d9"}}},"y2":{"field":"hi"}}},
     {"mark":{"type":"tick","orient":"horizontal","size":6,"thickness":1,"color":"#404040"},
      "encoding":{"x":{"field":"t","type":"quantitative","scale":{"domain":[0,180],"nice":false},"axis":{"values":[0,30,60,90,120,150,180],"title":"Process time [h]"}},"y":{"field":"lo","type":"quantitative","scale":{"domain":[0,200],"nice":false},"axis":{"values":[0,50,100,150,200],"title":"Pellet size [µm]","gridColor":{"condition":{"test":"datum.value === 200","value":"#262626"},"value":"#d9d9d9"}}}}},
     {"mark":{"type":"tick","orient":"horizontal","size":6,"thickness":1,"color":"#404040"},
      "encoding":{"x":{"field":"t","type":"quantitative","scale":{"domain":[0,180],"nice":false},"axis":{"values":[0,30,60,90,120,150,180],"title":"Process time [h]"}},"y":{"field":"hi","type":"quantitative","scale":{"domain":[0,200],"nice":false},"axis":{"values":[0,50,100,150,200],"title":"Pellet size [µm]","gridColor":{"condition":{"test":"datum.value === 200","value":"#262626"},"value":"#d9d9d9"}}}}},
     {"mark":{"type":"point","shape":"circle","filled":true,"size":50,"color":"#ffffff","stroke":"#404040","strokeWidth":1,"opacity":1},
      "encoding":{"x":{"field":"t","type":"quantitative","scale":{"domain":[0,180],"nice":false},"axis":{"values":[0,30,60,90,120,150,180],"title":"Process time [h]"}},"y":{"field":"p","type":"quantitative","scale":{"domain":[0,200],"nice":false},"axis":{"values":[0,50,100,150,200],"title":"Pellet size [µm]","gridColor":{"condition":{"test":"datum.value === 200","value":"#262626"},"value":"#d9d9d9"}}}}}
   ]},
   {"data":{"name":"compact"},"layer":[
     {"mark":{"type":"rule","color":"#404040","strokeWidth":1},
      "encoding":{"x":{"field":"t","type":"quantitative","scale":{"domain":[0,180],"nice":false},"axis":{"values":[0,30,60,90,120,150,180],"title":"Process time [h]"}},
       "y":{"field":"lo","type":"quantitative","scale":{"domain":[0,1],"nice":false},"axis":{"orient":"right","values":[0,0.2,0.4,0.6,0.8,1],"format":"~g","title":"Compactness [-]","titlePadding":17}},"y2":{"field":"hi"}}},
     {"mark":{"type":"tick","orient":"horizontal","size":6,"thickness":1,"color":"#404040"},
      "encoding":{"x":{"field":"t","type":"quantitative","scale":{"domain":[0,180],"nice":false},"axis":{"values":[0,30,60,90,120,150,180],"title":"Process time [h]"}},"y":{"field":"lo","type":"quantitative","scale":{"domain":[0,1],"nice":false},"axis":{"orient":"right","values":[0,0.2,0.4,0.6,0.8,1],"format":"~g","title":"Compactness [-]","titlePadding":17}}}},
     {"mark":{"type":"tick","orient":"horizontal","size":6,"thickness":1,"color":"#404040"},
      "encoding":{"x":{"field":"t","type":"quantitative","scale":{"domain":[0,180],"nice":false},"axis":{"values":[0,30,60,90,120,150,180],"title":"Process time [h]"}},"y":{"field":"hi","type":"quantitative","scale":{"domain":[0,1],"nice":false},"axis":{"orient":"right","values":[0,0.2,0.4,0.6,0.8,1],"format":"~g","title":"Compactness [-]","titlePadding":17}}}},
     {"mark":{"type":"point","shape":"triangle-up","filled":true,"size":75,"color":"#a5a5a5","stroke":"#a5a5a5","strokeWidth":1,"opacity":1},
      "encoding":{"x":{"field":"t","type":"quantitative","scale":{"domain":[0,180],"nice":false},"axis":{"values":[0,30,60,90,120,150,180],"title":"Process time [h]"}},"y":{"field":"c","type":"quantitative","scale":{"domain":[0,1],"nice":false},"axis":{"orient":"right","values":[0,0.2,0.4,0.6,0.8,1],"format":"~g","title":"Compactness [-]","titlePadding":17}}}}
   ]}
  ],
  "resolve":{"scale":{"y":"independent"}}},
 {"width":248,"height":198,
  "layer":[
   {"data":{"name":"vl"},"layer":[
     {"mark":{"type":"rule","color":"#404040","strokeWidth":1},
      "encoding":{"x":{"field":"t","type":"quantitative","scale":{"domain":[0,180],"nice":false},"axis":{"values":[0,30,60,90,120,150,180],"title":"Process time [h]"}},
       "y":{"field":"lo","type":"quantitative","scale":{"domain":[0,60],"nice":false},"axis":{"values":[0,10,20,30,40,50,60],"title":"vl [µm]","gridColor":{"condition":{"test":"datum.value === 60","value":"#262626"},"value":"#d9d9d9"}}},"y2":{"field":"hi"}}},
     {"mark":{"type":"tick","orient":"horizontal","size":6,"thickness":1,"color":"#404040"},
      "encoding":{"x":{"field":"t","type":"quantitative","scale":{"domain":[0,180],"nice":false},"axis":{"values":[0,30,60,90,120,150,180],"title":"Process time [h]"}},"y":{"field":"lo","type":"quantitative","scale":{"domain":[0,60],"nice":false},"axis":{"values":[0,10,20,30,40,50,60],"title":"vl [µm]","gridColor":{"condition":{"test":"datum.value === 60","value":"#262626"},"value":"#d9d9d9"}}}}},
     {"mark":{"type":"tick","orient":"horizontal","size":6,"thickness":1,"color":"#404040"},
      "encoding":{"x":{"field":"t","type":"quantitative","scale":{"domain":[0,180],"nice":false},"axis":{"values":[0,30,60,90,120,150,180],"title":"Process time [h]"}},"y":{"field":"hi","type":"quantitative","scale":{"domain":[0,60],"nice":false},"axis":{"values":[0,10,20,30,40,50,60],"title":"vl [µm]","gridColor":{"condition":{"test":"datum.value === 60","value":"#262626"},"value":"#d9d9d9"}}}}},
     {"mark":{"type":"point","shape":"M0,-1L0.85,0L0,1L-0.85,0Z","filled":true,"size":76,"color":"#ffffff","stroke":"#404040","strokeWidth":1,"opacity":1},
      "encoding":{"x":{"field":"t","type":"quantitative","scale":{"domain":[0,180],"nice":false},"axis":{"values":[0,30,60,90,120,150,180],"title":"Process time [h]"}},"y":{"field":"v","type":"quantitative","scale":{"domain":[0,60],"nice":false},"axis":{"values":[0,10,20,30,40,50,60],"title":"vl [µm]","gridColor":{"condition":{"test":"datum.value === 60","value":"#262626"},"value":"#d9d9d9"}}}}}
   ]},
   {"data":{"name":"qp"},"layer":[
     {"mark":{"type":"rule","color":"#404040","strokeWidth":1},
      "encoding":{"x":{"field":"t","type":"quantitative","scale":{"domain":[0,180],"nice":false},"axis":{"values":[0,30,60,90,120,150,180],"title":"Process time [h]"}},
       "y":{"field":"lo","type":"quantitative","scale":{"domain":[0,2],"nice":false},"axis":{"orient":"right","values":[0,0.5,1,1.5,2],"format":"~g","title":"qₚ [g/g/d]","titlePadding":5}},"y2":{"field":"hi"}}},
     {"mark":{"type":"tick","orient":"horizontal","size":6,"thickness":1,"color":"#404040"},
      "encoding":{"x":{"field":"t","type":"quantitative","scale":{"domain":[0,180],"nice":false},"axis":{"values":[0,30,60,90,120,150,180],"title":"Process time [h]"}},"y":{"field":"lo","type":"quantitative","scale":{"domain":[0,2],"nice":false},"axis":{"orient":"right","values":[0,0.5,1,1.5,2],"format":"~g","title":"qₚ [g/g/d]","titlePadding":5}}}},
     {"mark":{"type":"tick","orient":"horizontal","size":6,"thickness":1,"color":"#404040"},
      "encoding":{"x":{"field":"t","type":"quantitative","scale":{"domain":[0,180],"nice":false},"axis":{"values":[0,30,60,90,120,150,180],"title":"Process time [h]"}},"y":{"field":"hi","type":"quantitative","scale":{"domain":[0,2],"nice":false},"axis":{"orient":"right","values":[0,0.5,1,1.5,2],"format":"~g","title":"qₚ [g/g/d]","titlePadding":5}}}},
     {"mark":{"type":"point","shape":"square","filled":true,"size":45,"color":"#000000","stroke":"#000000","strokeWidth":0.5,"opacity":1},
      "encoding":{"x":{"field":"t","type":"quantitative","scale":{"domain":[0,180],"nice":false},"axis":{"values":[0,30,60,90,120,150,180],"title":"Process time [h]"}},"y":{"field":"q","type":"quantitative","scale":{"domain":[0,2],"nice":false},"axis":{"orient":"right","values":[0,0.5,1,1.5,2],"format":"~g","title":"qₚ [g/g/d]","titlePadding":5}}}}
   ]}
  ],
  "resolve":{"scale":{"y":"independent"}}}
]}
]
}
